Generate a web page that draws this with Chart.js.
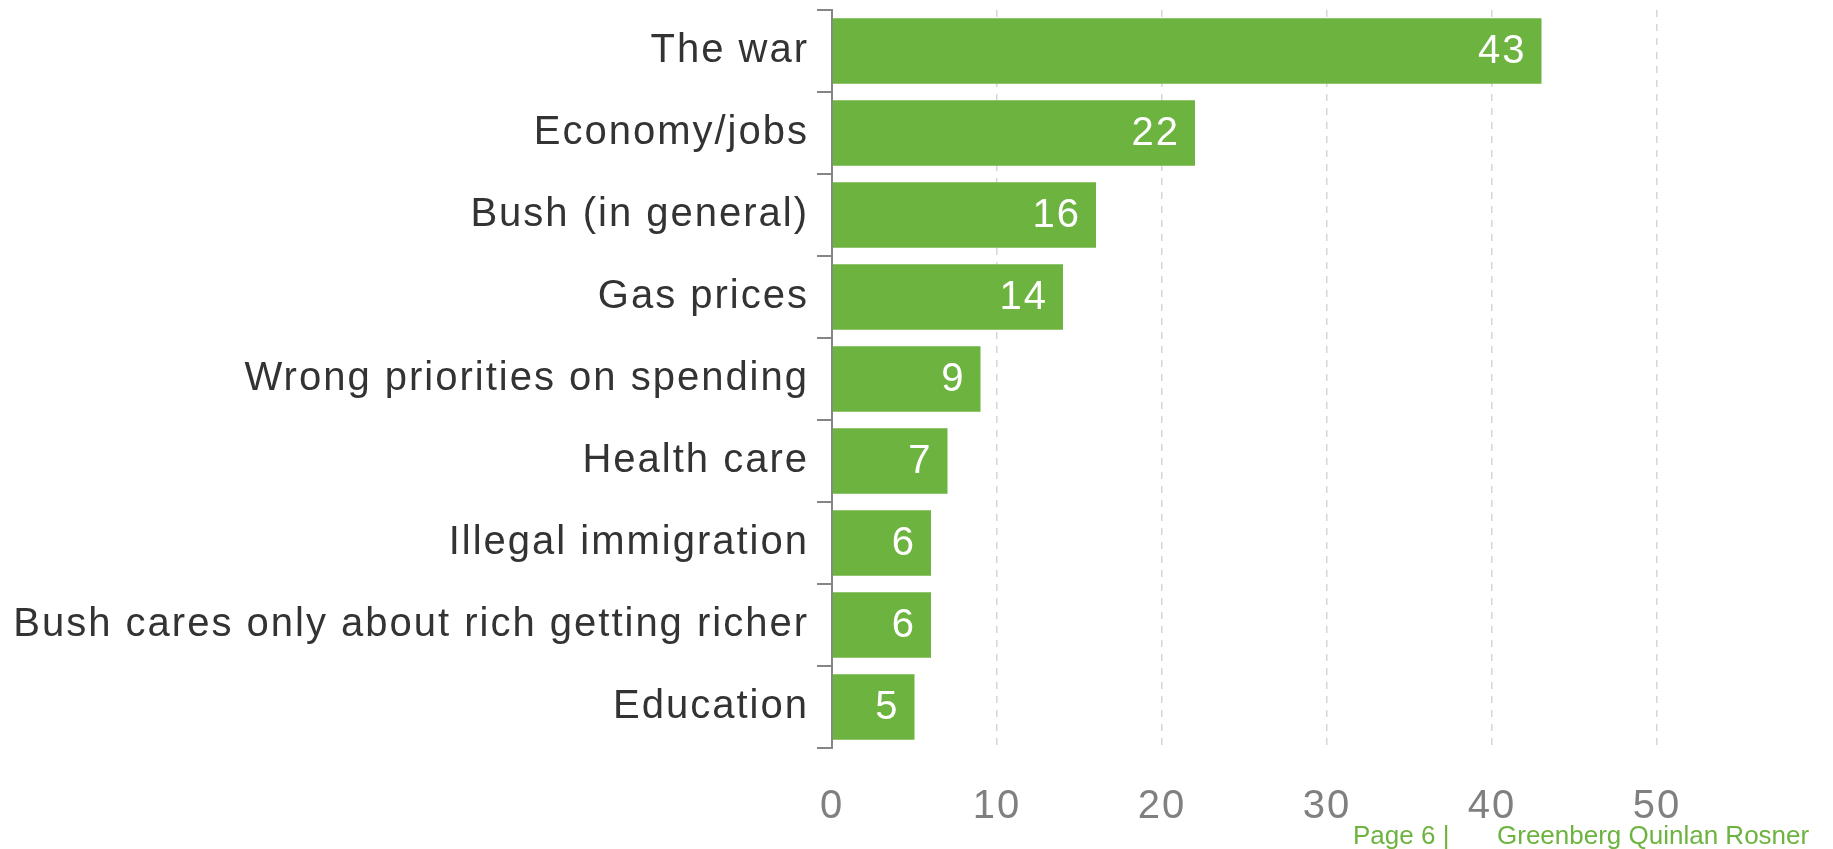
<!DOCTYPE html>
<html>
<head>
<meta charset="utf-8">
<script src="https://cdn.jsdelivr.net/npm/chart.js@4/dist/chart.umd.min.js"></script>
<style>
  html, body { margin: 0; padding: 0; background: #ffffff; }
  #wrap { position: relative; width: 1833px; height: 849px; overflow: hidden; }
  #c { position: absolute; left: 0; top: 0; }
  .foot { position: absolute; font-family: "Liberation Sans", Arial, sans-serif; font-size: 26px; line-height: 26px; color: #6db33f; white-space: nowrap; }
</style>
</head>
<body>
<div id="wrap">
  <canvas id="c" width="1833" height="849"></canvas>
  <div class="foot" style="left:1353px; top:822px;">Page 6 |</div>
  <div class="foot" style="left:1497px; top:822px;">Greenberg Quinlan Rosner</div>
</div>
<script>
const categories = [
  "The war",
  "Economy/jobs",
  "Bush (in general)",
  "Gas prices",
  "Wrong priorities on spending",
  "Health care",
  "Illegal immigration",
  "Bush cares only about rich getting richer",
  "Education"
];
const values = [43, 22, 16, 14, 9, 7, 6, 6, 5];
const xTicks = [0, 10, 20, 30, 40, 50];

const FONT = '"Liberation Sans", Arial, sans-serif';
const SPACING = '2px';

const spacingPlugin = {
  id: 'spacing',
  beforeUpdate(chart) { chart.ctx.letterSpacing = SPACING; },
  beforeLayout(chart) { chart.ctx.letterSpacing = SPACING; },
  beforeDraw(chart) { chart.ctx.letterSpacing = SPACING; }
};

const valueLabels = {
  id: 'valueLabels',
  afterDatasetsDraw(chart) {
    const ctx = chart.ctx;
    const meta = chart.getDatasetMeta(0);
    ctx.save();
    ctx.letterSpacing = SPACING;
    ctx.font = '40px ' + FONT;
    ctx.fillStyle = '#ffffff';
    ctx.textAlign = 'right';
    ctx.textBaseline = 'middle';
    meta.data.forEach((bar, i) => {
      ctx.fillText(String(values[i]), bar.x - 15, bar.y + 1);
    });
    ctx.restore();
  }
};

new Chart(document.getElementById('c'), {
  type: 'bar',
  data: {
    labels: categories,
    datasets: [{
      data: values,
      backgroundColor: '#6db33f',
      borderWidth: 0,
      categoryPercentage: 0.8,
      barPercentage: 1.0
    }]
  },
  options: {
    indexAxis: 'y',
    responsive: false,
    animation: false,
    devicePixelRatio: 1,
    layout: { padding: { left: 0, top: 10, right: 176, bottom: 0 } },
    plugins: {
      legend: { display: false },
      tooltip: { enabled: false }
    },
    scales: {
      x: {
        min: 0,
        max: 50,
        afterBuildTicks(scale) { scale.ticks = xTicks.map(v => ({ value: v })); },
        afterFit(scale) { scale.height = 101; scale.paddingLeft = 0; scale.paddingRight = 0; },
        grid: {
          color: '#d6d6d6',
          lineWidth: 1.5,
          drawTicks: false,
          tickLength: 0
        },
        border: { display: false, dash: [7, 7] },
        ticks: {
          color: '#808080',
          font: { family: FONT, size: 40 },
          padding: 35,
          maxRotation: 0,
          autoSkip: false
        }
      },
      y: {
        afterFit(scale) { scale.width = 832; scale.paddingTop = 0; scale.paddingBottom = 0; },
        grid: {
          display: true,
          offset: true,
          drawOnChartArea: false,
          drawTicks: true,
          tickLength: 15,
          color: '#868686',
          lineWidth: 2
        },
        border: { display: true, color: '#868686', width: 2 },
        ticks: {
          color: '#333333',
          font: { family: FONT, size: 40 },
          padding: 8,
          autoSkip: false
        }
      }
    }
  },
  plugins: [spacingPlugin, valueLabels]
});
</script>
</body>
</html>
